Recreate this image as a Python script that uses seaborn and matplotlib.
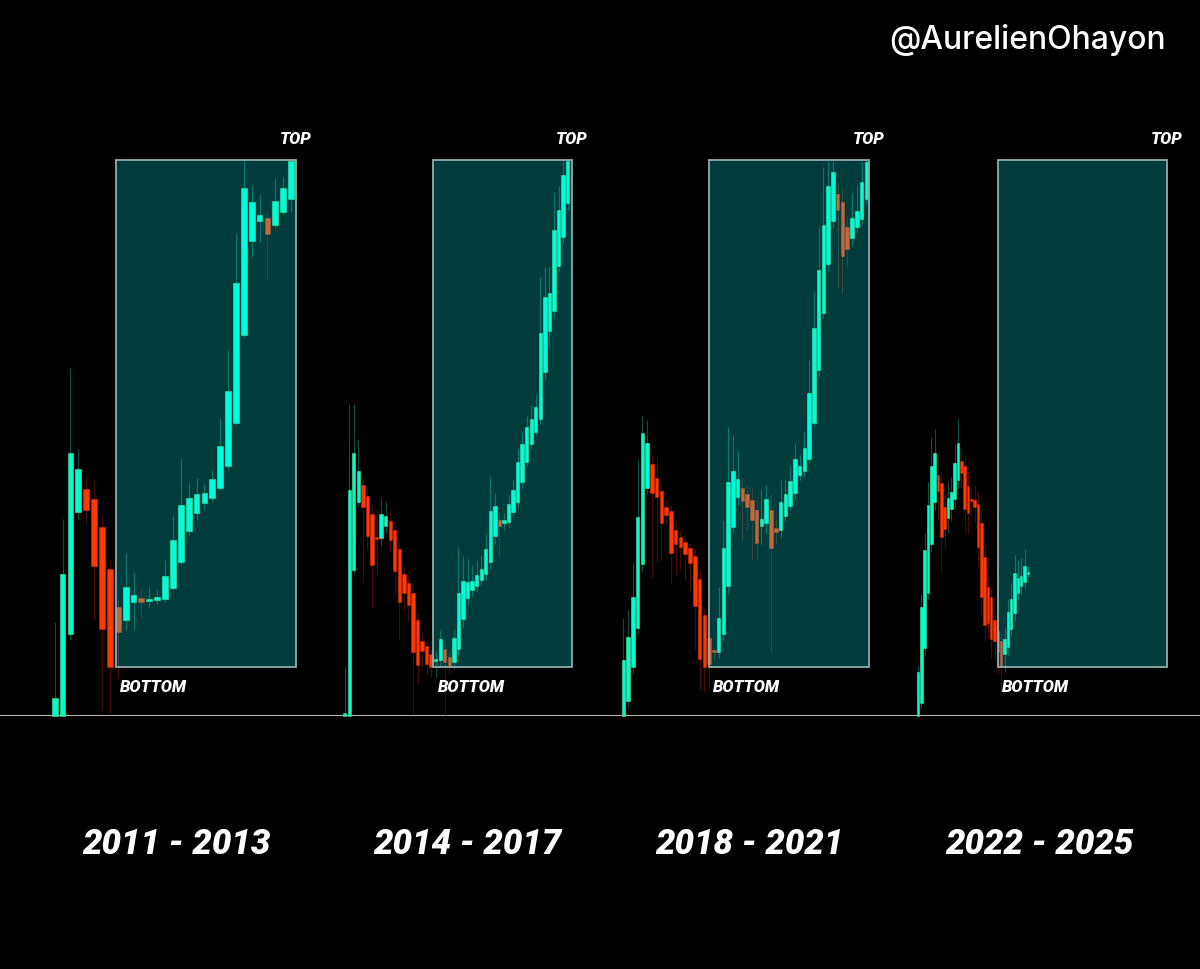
import matplotlib
matplotlib.use("Agg")
import matplotlib.pyplot as plt
from matplotlib.patches import Rectangle
import seaborn as sns
import numpy as np

# Candles per cycle, price normalised: 0 = chart floor, 100 = cycle top
cycle_labels = ["2011 - 2013", "2014 - 2017", "2018 - 2021", "2022 - 2025"]

c1_open = [0, 0, 14.7, 36.7, 40.8, 39.0, 34.0, 26.4, 19.6, 17.3, 20.5, 21.2, 20.7, 20.9, 21.0, 23.0,
           27.7, 33.3, 36.5, 38.3, 39.2, 41.0, 45.0, 52.7, 68.5, 85.4, 89.0, 89.6, 88.3, 90.6, 93.0]
c1_high = [16.9, 35.4, 62.6, 48.0, 43.3, 42.4, 36.2, 28.1, 20.9, 29.3, 25.9, 23.0, 23.2, 22.7, 28.1, 36.0,
           46.4, 41.9, 42.8, 41.7, 44.2, 53.6, 65.8, 86.9, 100, 95.5, 93.9, 90.6, 96.8, 96.9, 100]
c1_low = [0, 0, 13.7, 35.3, 34.7, 17.3, 1.1, 0.5, 6.8, 15.5, 15.5, 17.8, 19.4, 20.1, 20.5, 22.7,
          27.2, 32.6, 35.3, 37.1, 38.5, 40.6, 44.2, 52.3, 68.0, 82.6, 85.3, 78.6, 87.8, 90.1, 90.6]
c1_close = [3.2, 25.5, 47.3, 44.4, 37.1, 27.0, 15.6, 8.8, 15.1, 23.2, 21.8, 20.5, 21.0, 21.4, 25.2, 31.7,
            37.9, 39.2, 39.9, 40.1, 42.6, 48.6, 58.5, 77.9, 95.0, 92.4, 90.1, 86.7, 92.6, 95.0, 99.8]

c2_open = [0, 0, 26.3, 38.5, 41.5, 39.6, 36.3, 32.2, 32.0, 34.2, 35.1, 33.5, 30.0, 25.5, 23.9, 22.1, 17.3,
           13.5, 12.6, 11.2, 9.9, 10.1, 12.1, 10.6, 9.7, 12.1, 17.4, 21.2, 22.7, 23.4, 24.5, 25.5, 27.7,
           32.4, 35.3, 34.7, 34.9, 36.7, 38.5, 42.1, 45.7, 48.9, 51.1, 53.4, 61.9, 69.2, 72.8, 80.9, 86.2, 92.3]
c2_high = [8.8, 56.1, 56.1, 49.8, 43.0, 41.0, 38.0, 37.1, 39.2, 38.5, 37.0, 35.0, 31.5, 27.0, 25.0, 23.5,
           18.5, 14.5, 13.5, 12.0, 11.5, 15.5, 13.0, 11.5, 15.5, 30.4, 28.8, 28.4, 27.0, 28.0, 29.0, 33.0,
           43.2, 40.1, 36.5, 36.5, 40.0, 42.5, 48.0, 51.0, 54.0, 56.0, 58.0, 79.0, 80.8, 80.8, 94.2, 95.3, 99.8, 100]
c2_low = [0, 0, 25.5, 37.8, 24.1, 30.0, 19.4, 25.4, 30.5, 33.0, 29.5, 22.0, 13.7, 19.0, 17.0, 0.5, 5.9,
          9.0, 7.5, 7.0, 7.0, 9.0, 0.2, 7.5, 8.5, 11.0, 16.0, 20.0, 21.5, 22.5, 23.5, 24.5, 26.5, 31.0,
          28.6, 33.5, 34.0, 36.0, 37.5, 41.0, 45.0, 48.0, 50.5, 52.5, 60.5, 66.4, 71.5, 80.0, 85.0, 91.0]
c2_close = [0.5, 40.6, 47.3, 44.1, 37.6, 32.4, 27.2, 31.8, 36.3, 36.0, 31.7, 26.1, 20.5, 22.1, 20.0, 11.5,
            9.2, 11.7, 9.4, 8.8, 10.3, 13.8, 9.7, 9.0, 14.0, 22.1, 24.3, 24.1, 24.3, 25.4, 26.4, 30.0, 36.9,
            37.8, 34.2, 35.3, 38.1, 40.6, 45.7, 48.9, 52.0, 53.4, 55.6, 68.9, 75.4, 76.1, 87.4, 91.0, 97.3, 99.8]

c3_open = [0, 2.7, 8.8, 15.8, 27.3, 41.0, 45.3, 42.8, 40.5, 37.6, 36.9, 33.5, 32.2, 31.3, 30.2, 28.8, 24.6,
           18.2, 14.0, 11.7, 11.5, 14.7, 23.4, 34.0, 39.4, 41.0, 39.9, 38.8, 37.1, 34.2, 34.7, 37.1, 33.8,
           33.5, 36.0, 37.8, 40.1, 43.3, 44.1, 46.2, 52.7, 62.2, 72.5, 81.3, 89.0, 93.9, 92.4, 87.9, 86.0,
           87.9, 89.4, 93.0]
c3_high = [17.6, 19.1, 27.5, 46.0, 54.1, 53.2, 47.0, 46.6, 42.0, 39.0, 38.0, 35.0, 33.5, 32.5, 31.0, 30.0,
           26.0, 19.5, 15.0, 12.5, 23.2, 35.3, 52.0, 50.5, 47.8, 43.0, 41.5, 41.0, 39.0, 40.6, 41.5, 40.0,
           35.5, 42.4, 42.5, 45.0, 49.0, 47.0, 51.0, 64.0, 76.3, 87.9, 98.7, 99.8, 99.8, 96.0, 95.0, 90.0,
           94.1, 95.5, 99.6, 100]
c3_low = [0, 1.5, 7.5, 14.5, 26.0, 40.0, 24.8, 27.5, 28.1, 34.5, 23.9, 25.4, 26.3, 24.5, 22.7, 11.9, 4.7,
          4.3, 4.7, 10.0, 10.5, 13.5, 22.0, 33.0, 38.0, 31.7, 33.5, 28.1, 28.1, 31.0, 33.0, 11.3, 31.0,
          32.0, 35.0, 37.0, 39.0, 42.5, 43.0, 45.5, 52.0, 61.0, 71.5, 80.0, 88.0, 77.0, 76.1, 80.8, 84.5,
          87.0, 88.5, 92.0]
c3_close = [10.1, 14.2, 21.4, 35.8, 50.9, 49.1, 40.1, 39.4, 34.7, 36.2, 29.3, 30.9, 30.4, 29.1, 27.5, 19.8,
            10.3, 8.8, 9.4, 11.5, 17.6, 30.2, 42.1, 44.1, 42.6, 38.7, 37.6, 35.3, 31.1, 35.4, 39.0, 30.2,
            33.1, 38.5, 39.9, 42.3, 46.2, 45.0, 48.2, 58.1, 69.8, 80.2, 88.3, 95.3, 97.8, 91.0, 82.7, 84.0,
            89.6, 90.8, 96.0, 99.6]

c4_open = [0, 2.3, 12.2, 22.1, 30.9, 38.5, 43.3, 41.9, 37.6, 35.6, 37.2, 39.0, 42.4, 45.9, 45.0, 41.4, 39.0,
           38.8, 38.1, 34.7, 28.6, 23.2, 21.4, 17.3, 15.3, 13.5, 11.2, 12.4, 15.6, 18.5, 22.1, 23.4, 24.1, 25.5]
c4_high = [9.0, 22.0, 33.0, 42.0, 50.0, 51.6, 47.0, 44.0, 40.0, 42.0, 43.0, 49.0, 53.6, 48.0, 47.0, 44.0,
           41.0, 41.5, 40.5, 37.0, 31.0, 25.0, 23.0, 19.0, 17.0, 15.0, 16.0, 21.0, 24.0, 29.0, 28.0, 28.5,
           30.0, 27.0]
c4_low = [0, 1.5, 11.0, 21.0, 29.5, 37.0, 35.0, 26.0, 30.0, 33.0, 35.0, 37.5, 41.0, 41.0, 33.0, 33.0, 36.0,
          35.0, 27.0, 18.0, 13.5, 14.0, 10.5, 10.0, 7.5, 4.0, 8.0, 11.0, 14.5, 17.0, 21.0, 22.0, 23.0, 25.0]
c4_close = [7.9, 19.6, 29.9, 37.9, 45.0, 47.3, 40.5, 32.2, 33.6, 39.2, 40.3, 45.5, 49.1, 43.7, 37.2, 36.5,
            38.7, 37.6, 30.4, 21.4, 16.4, 16.7, 13.8, 13.5, 11.5, 8.8, 13.8, 18.7, 21.0, 25.7, 24.8, 25.2,
            27.0, 25.9]

box_bottom = 8.8   # level of the cycle bottom marked by the boxes
box_top = 100

sns.set_theme(style="dark", rc={"figure.facecolor": "black", "axes.facecolor": "black",
                                "savefig.facecolor": "black"})
plt.rcParams["font.family"] = ["Roboto", "DejaVu Sans"]

W, H = 1200, 969
fig = plt.figure(figsize=(12, 9.69), dpi=100)

ax_bot = 1 - 716 / H
ax_h = 556 / H

# full-width floor line
base = fig.add_axes([0, ax_bot, 1, ax_h])
base.set_xlim(0, 1)
base.set_ylim(0, 100)
base.set_axis_off()
base.axhline(0, color="#b4b4b4", lw=1.5)

# layout per cycle: first candle x (px), candle spacing (px), box start/end (candle index), label x (px)
layout = [(54.7, 7.88, 7.8, 30.6, 176),
          (344.7, 4.55, 19.5, 50.0, 467),
          (623.3, 4.765, 18.0, 51.6, 749),
          (918.0, 3.33, 24.0, 74.7, 1039)]
series = [(c1_open, c1_high, c1_low, c1_close),
          (c2_open, c2_high, c2_low, c2_close),
          (c3_open, c3_high, c3_low, c3_close),
          (c4_open, c4_high, c4_low, c4_close)]

green, red = "#00fcd0", "#ff3a00"
label_font = dict(family=["Roboto", "DejaVu Sans"], weight="black", style="italic", color="white")

for (x0, step, b0, b1, lx), (o, h, l, c), label in zip(layout, series, cycle_labels):
    o, h, l, c = map(np.asarray, (o, h, l, c))
    left = x0 - 2 * step
    right = x0 + b1 * step
    ax = fig.add_axes([left / W, ax_bot, (right - left) / W, ax_h])
    ax.set_xlim(-2, b1)
    ax.set_ylim(0, 100)
    ax.set_axis_off()

    idx = np.arange(len(o))
    up = c >= o
    ax.vlines(idx, l, h, colors=np.where(up, "#0a4f43", "#4a0c00"), lw=0.8, zorder=1, clip_on=False)
    body = np.maximum(np.abs(c - o), 0.4)
    ax.bar(idx, body, bottom=np.minimum(o, c), width=0.74,
           color=np.where(up, green, red), edgecolor=np.where(up, "#52e68a", "#d82800"),
           linewidth=0.4, zorder=2, clip_on=False)

    ax.add_patch(Rectangle((b0, box_bottom), b1 - b0, box_top - box_bottom,
                           facecolor=(0, 1, 1, 0.24), edgecolor="none", zorder=3, clip_on=False))
    ax.add_patch(Rectangle((b0, box_bottom), b1 - b0, box_top - box_bottom,
                           fill=False, edgecolor="#93abab", lw=1.3, zorder=4, clip_on=False))

    ax.text(b1, 103.6, "TOP", ha="center", va="center", fontsize=12, **label_font)
    ax.annotate("BOTTOM", xy=(b0, 5.2), xytext=(3, 0), textcoords="offset points",
                ha="left", va="center", fontsize=12, **label_font)

    fig.text(lx / W, 1 - 845 / H, label, ha="center", va="center", fontsize=25, **label_font)

fig.text(1166 / W, 1 - 40 / H, "@AurelienOhayon", ha="right", va="center", fontsize=23,
         color="white", weight="medium", family=["Inter", "DejaVu Sans"])

fig.savefig("out.png", dpi=100, facecolor="black")
